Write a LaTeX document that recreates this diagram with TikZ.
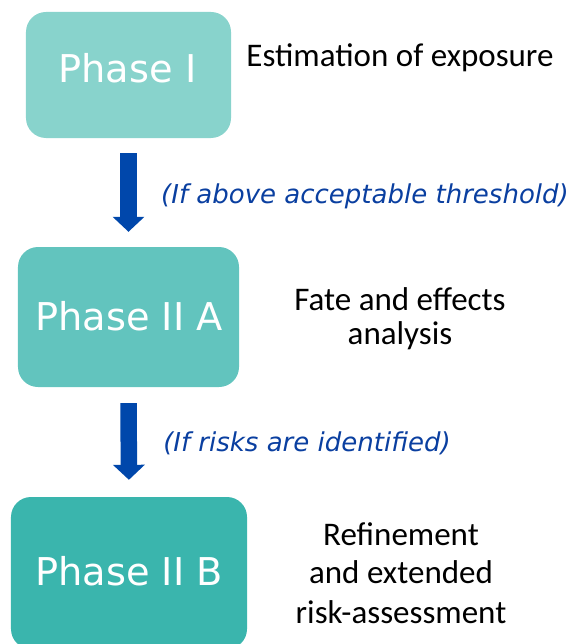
\documentclass[tikz,border=0pt]{standalone}
\usepackage{fontspec}
\setmainfont{Carlito}
\newfontfamily\boxfont{DejaVu Sans}
\usetikzlibrary{arrows.meta}
\definecolor{boxA}{HTML}{88D3CC}
\definecolor{boxB}{HTML}{62C4BE}
\definecolor{boxC}{HTML}{3AB5AD}
\definecolor{arrowblue}{HTML}{0047AB}
\definecolor{condblue}{HTML}{0A3FA0}
\tikzset{
  phasebox/.style={draw=none, rounded corners=20bp, inner sep=0pt},
  phasetext/.style={anchor=base, inner sep=0pt, text=white, font=\boxfont\fontsize{38.3bp}{40bp}\selectfont},
  desctext/.style={anchor=base, inner sep=0pt, text=black, font=\fontsize{33bp}{34bp}\selectfont},
  condtext/.style={anchor=base, inner sep=0pt, text=condblue, font=\boxfont\itshape\fontsize{26bp}{28bp}\selectfont},
  flowarrow/.style={draw=arrowblue, line width=16.5bp, -{Triangle[width=31bp,length=15bp]}},
}
\begin{document}
\begin{tikzpicture}[x=1bp,y=-1bp]
\useasboundingbox (0,0) rectangle (571,644);
\node[phasebox, fill=boxA, minimum width=205bp, minimum height=126bp] (b1) at (128.5,75) {};
\node[phasebox, fill=boxB, minimum width=221bp, minimum height=140bp] (b2) at (128.5,317) {};
\node[phasebox, fill=boxC, minimum width=236bp, minimum height=152bp] (b3) at (129,573) {};
\node[phasetext] (t1) at (127.5,83) {Phase I};
\node[phasetext] (t2) at (129,330) {Phase II A};
\node[phasetext] (t3) at (129,585) {Phase II B};
\draw[flowarrow, shorten <=15bp, shorten >=15bp] (b1.south) -- (b2.north);
\draw[flowarrow, shorten <=16bp, shorten >=17bp] (b2.south) -- (b3.north);
\node[condtext] (c1) at (365,203) {(If above acceptable threshold)};
\node[condtext] (c2) at (307,451) {(If risks are identified)};
\node[desctext] (d1) at (400,67) {Estimation of exposure};
\node[desctext] (d2a) at (400,310) {Fate and effects};
\node[desctext] (d2b) at (400,344) {analysis};
\node[desctext] (d3a) at (401,545) {Refinement};
\node[desctext] (d3b) at (401,583) {and extended};
\node[desctext] (d3c) at (401,623) {risk-assessment};
\end{tikzpicture}
\end{document}
